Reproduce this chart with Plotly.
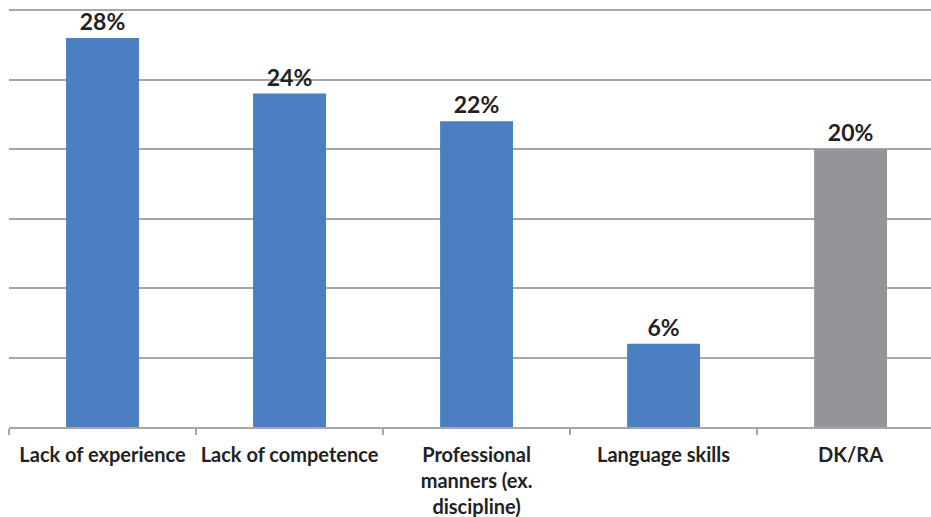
import plotly.graph_objects as go

categories = ["Lack of experience", "Lack of competence",
              "Professional<br>manners (ex.<br>discipline)",
              "Language skills", "DK/RA"]
values = [28, 24, 22, 6, 20]
bar_colors = ["#4a80c2", "#4a80c2", "#4a80c2", "#4a80c2", "#939598"]

FONT = "Lato"

fig = go.Figure(go.Bar(
    x=categories,
    y=values,
    marker=dict(color=bar_colors, line=dict(width=0)),
    width=0.39,
    text=[f"{v}%" for v in values],
    textposition="outside",
    textfont=dict(family=FONT, size=23, color="#222222", weight="bold"),
    cliponaxis=False,
))

fig.update_layout(
    width=931, height=517,
    margin=dict(l=9, r=0, t=6, b=90, autoexpand=False),
    paper_bgcolor="white", plot_bgcolor="white",
    showlegend=False,
    font=dict(family=FONT),
    xaxis=dict(
        type="category",
        range=[-0.5, 4.43],
        showgrid=False,
        showline=True, linecolor="#a6a6a6", linewidth=2,
        ticks="outside", tickson="boundaries", ticklen=6,
        tickcolor="#a6a6a6", tickwidth=1.5,
        tickangle=0, automargin=False,
        tickfont=dict(family=FONT, size=20, color="#222222", weight="bold"),
        ticklabelstandoff=9,
    ),
    yaxis=dict(
        range=[0, 30.3], tickvals=[5, 10, 15, 20, 25, 30],
        showticklabels=False,
        showgrid=True, gridcolor="#a6a6a6", gridwidth=2,
        zeroline=False,
        showline=False,
        automargin=False,
    ),
)

fig.write_html("out.html")
